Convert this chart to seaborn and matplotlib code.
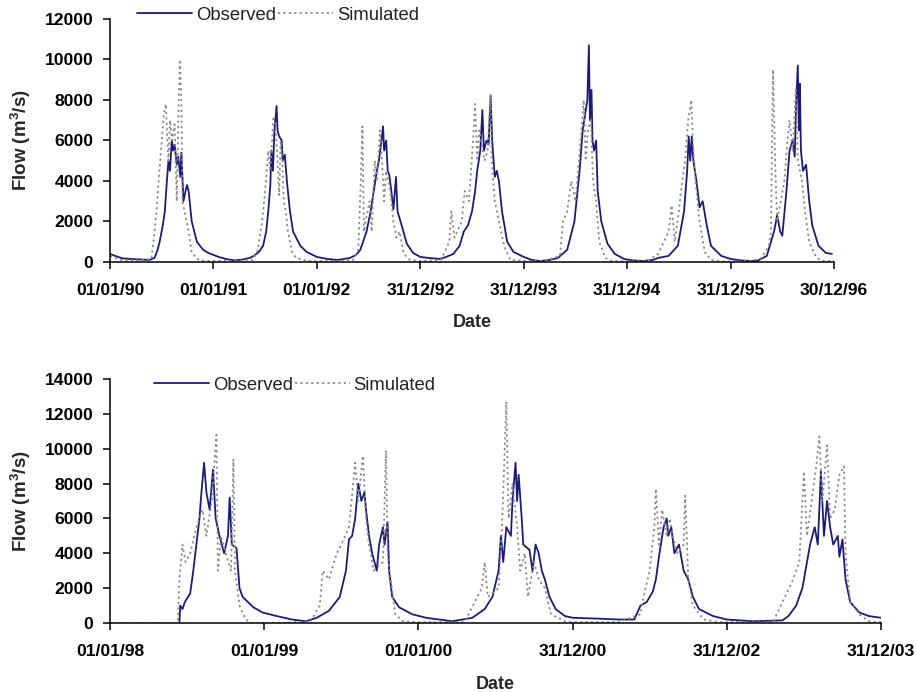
import matplotlib
matplotlib.use("Agg")
import matplotlib.pyplot as plt
import seaborn as sns
import pandas as pd

# ---------------- data (time in years from first tick, flow in m3/s) ----------------
top_ticklabels = ["01/01/90", "01/01/91", "01/01/92", "31/12/92", "31/12/93", "31/12/94", "31/12/95", "30/12/96"]
bot_ticklabels = ["01/01/98", "01/01/99", "01/01/00", "31/12/00", "31/12/02", "31/12/03"]

top_obs_t = [0.00, 0.05, 0.12, 0.2, 0.3, 0.38, 0.43, 0.46, 0.48, 0.51, 0.53, 0.55, 0.565, 0.58, 0.597, 0.61, 0.625, 0.645, 0.66, 0.68, 0.69, 0.71, 0.73, 0.745, 0.76, 0.79, 0.84, 0.9, 0.95, 1.0,
             1.05, 1.12, 1.2, 1.28, 1.35, 1.39, 1.44, 1.48, 1.51, 1.53, 1.55, 1.56, 1.575, 1.59, 1.61, 1.62, 1.635, 1.66, 1.67, 1.69, 1.71, 1.74, 1.77, 1.84, 1.9, 2.0,
             2.1, 2.2, 2.32, 2.38, 2.42, 2.48, 2.52, 2.55, 2.58, 2.6, 2.62, 2.64, 2.65, 2.67, 2.685, 2.7, 2.72, 2.74, 2.765, 2.78, 2.82, 2.87, 2.93, 3.0,
             3.08, 3.19, 3.25, 3.32, 3.38, 3.42, 3.46, 3.5, 3.53, 3.55, 3.58, 3.6, 3.615, 3.64, 3.66, 3.68, 3.695, 3.72, 3.74, 3.76, 3.79, 3.84, 3.9, 4.0,
             4.08, 4.16, 4.25, 4.33, 4.42, 4.49, 4.52, 4.54, 4.57, 4.6, 4.615, 4.63, 4.64, 4.655, 4.665, 4.68, 4.7, 4.715, 4.75, 4.81, 4.88, 4.97,
             5.05, 5.15, 5.25, 5.3, 5.4, 5.49, 5.55, 5.58, 5.595, 5.61, 5.625, 5.64, 5.67, 5.7, 5.73, 5.77, 5.81, 5.91, 6.0,
             6.1, 6.2, 6.26, 6.35, 6.42, 6.45, 6.48, 6.5, 6.54, 6.57, 6.6, 6.62, 6.635, 6.65, 6.66, 6.67, 6.68, 6.7, 6.73, 6.76, 6.79, 6.85, 6.92, 6.98]
top_obs_v = [400, 300, 180, 150, 120, 100, 200, 600, 1000, 1800, 2500, 4000, 5000, 4500, 6000, 5500, 5800, 4800, 5200, 4200, 5400, 3000, 3500, 3800, 3500, 2000, 1000, 600, 450, 350,
             250, 150, 80, 120, 200, 300, 500, 800, 1500, 2500, 3800, 5500, 4500, 6500, 7700, 6500, 6200, 6000, 5000, 5300, 4000, 2500, 1500, 800, 500, 250,
             150, 100, 200, 350, 600, 1500, 2500, 3500, 4500, 5000, 5800, 6700, 5500, 6000, 4500, 4300, 3500, 2600, 4200, 2500, 1800, 900, 450, 250,
             200, 150, 250, 400, 800, 1500, 1800, 2500, 3500, 4500, 5500, 7500, 5500, 6000, 5800, 8200, 6000, 4200, 4500, 4000, 2500, 1000, 500, 250,
             100, 50, 100, 200, 600, 2000, 3500, 4500, 6500, 7500, 8000, 10700, 7000, 8500, 6000, 5500, 6000, 3500, 2000, 900, 400, 150,
             80, 50, 100, 200, 300, 800, 2500, 4500, 6200, 5000, 6200, 5000, 4000, 2700, 3000, 1800, 800, 300, 150,
             80, 50, 60, 300, 1500, 2300, 1500, 1300, 3500, 5500, 6000, 5200, 8000, 9700, 6500, 8800, 5500, 4500, 4800, 3000, 1800, 800, 450, 400]

top_sim_t = [0.0, 0.1, 0.3, 0.4, 0.42, 0.45, 0.47, 0.5, 0.52, 0.54, 0.55, 0.565, 0.58, 0.6, 0.625, 0.645, 0.66, 0.675, 0.69, 0.7, 0.72, 0.76, 0.79, 0.84, 0.9, 1.0,
             1.2, 1.38, 1.43, 1.47, 1.5, 1.53, 1.55, 1.58, 1.6, 1.62, 1.635, 1.65, 1.665, 1.68, 1.7, 1.72, 1.76, 1.8, 1.9, 2.0,
             2.2, 2.35, 2.4, 2.425, 2.44, 2.455, 2.47, 2.51, 2.53, 2.56, 2.58, 2.61, 2.63, 2.65, 2.67, 2.71, 2.74, 2.77, 2.8, 2.84, 2.9, 3.0,
             3.2, 3.28, 3.3, 3.33, 3.4, 3.43, 3.47, 3.51, 3.53, 3.55, 3.57, 3.59, 3.62, 3.65, 3.68, 3.69, 3.72, 3.76, 3.81, 3.87, 4.0,
             4.2, 4.35, 4.38, 4.42, 4.46, 4.5, 4.55, 4.58, 4.6, 4.62, 4.65, 4.67, 4.7, 4.73, 4.79, 4.85, 5.0,
             5.2, 5.3, 5.4, 5.43, 5.46, 5.5, 5.52, 5.56, 5.59, 5.62, 5.635, 5.66, 5.7, 5.75, 5.81, 5.9, 6.0,
             6.2, 6.3, 6.37, 6.39, 6.41, 6.43, 6.45, 6.52, 6.55, 6.57, 6.6, 6.63, 6.65, 6.69, 6.72, 6.76, 6.83, 6.9, 7.0]
top_sim_v = [300, 100, 80, 150, 1000, 2500, 4000, 6000, 7300, 7800, 6500, 5000, 7000, 6000, 6800, 3000, 7000, 10000, 8000, 3000, 2500, 1500, 500, 150, 60, 50,
             50, 100, 600, 2000, 3500, 5500, 4500, 7200, 6800, 5000, 3300, 6000, 5000, 3000, 2500, 1500, 500, 200, 60, 40,
             50, 100, 600, 4000, 6700, 1500, 2000, 3000, 1500, 5000, 4000, 6500, 5000, 3000, 4500, 3500, 2000, 1200, 1500, 400, 100, 50,
             100, 1000, 2500, 1200, 2000, 3500, 3000, 6000, 7800, 5000, 6500, 6000, 5000, 5500, 8300, 5000, 3000, 2000, 800, 100, 50,
             50, 300, 2000, 2500, 4000, 3000, 6000, 8000, 5000, 6500, 7000, 4000, 3000, 1000, 200, 50, 30,
             50, 400, 1500, 2800, 1000, 2500, 3500, 5000, 7000, 8000, 6000, 4000, 2000, 500, 100, 30, 30,
             50, 200, 800, 1500, 9500, 5000, 2000, 4000, 6000, 7000, 5500, 8500, 5000, 4000, 2500, 1000, 200, 50, 50]

bot_obs_t = [0.45, 0.455, 0.47, 0.485, 0.52, 0.54, 0.56, 0.58, 0.593, 0.61, 0.625, 0.646, 0.668, 0.685, 0.71, 0.74, 0.765, 0.776, 0.79, 0.82, 0.84, 0.86, 0.93, 0.99,
             1.08, 1.18, 1.27, 1.34, 1.42, 1.49, 1.53, 1.55, 1.57, 1.59, 1.61, 1.63, 1.65, 1.66, 1.68, 1.7, 1.73, 1.745, 1.77, 1.78, 1.8, 1.81, 1.83, 1.875, 1.96,
             2.05, 2.22, 2.35, 2.43, 2.48, 2.52, 2.535, 2.55, 2.57, 2.6, 2.61, 2.63, 2.64, 2.65, 2.67, 2.68, 2.72, 2.74, 2.76, 2.78, 2.8, 2.82, 2.85, 2.89, 2.95,
             3.0, 3.17, 3.3, 3.4, 3.415, 3.44, 3.48, 3.52, 3.54, 3.56, 3.59, 3.61, 3.62, 3.64, 3.66, 3.69, 3.72, 3.75, 3.78, 3.82, 3.91,
             4.0, 4.17, 4.36, 4.4, 4.45, 4.49, 4.52, 4.54, 4.57, 4.59, 4.6, 4.61, 4.63, 4.65, 4.67, 4.69, 4.72, 4.73, 4.75, 4.77, 4.8, 4.86, 4.92, 5.0]
bot_obs_v = [0, 1000, 800, 1200, 1700, 3000, 4500, 6000, 7500, 9200, 7500, 6500, 8800, 6000, 5000, 4000, 5000, 7200, 4500, 4300, 2000, 1500, 900, 600,
             400, 200, 100, 300, 700, 1500, 3000, 4800, 5000, 6000, 8000, 7000, 7500, 6500, 5000, 4000, 3000, 4500, 5500, 4500, 5800, 3000, 1500, 900, 500,
             300, 100, 300, 800, 1500, 3000, 5000, 3500, 5500, 5000, 7000, 9200, 7000, 8500, 6000, 4500, 4200, 3000, 4500, 4000, 3000, 2500, 1500, 800, 400,
             300, 250, 200, 200, 500, 1000, 1200, 1800, 2500, 3800, 5500, 6000, 5000, 5500, 4000, 4500, 3000, 2500, 1500, 800, 400,
             200, 100, 150, 400, 1000, 2000, 3500, 4500, 5500, 4500, 6500, 8700, 5000, 7000, 5500, 4500, 5000, 3800, 4800, 2500, 1200, 600, 400, 300]

bot_sim_t = [0.0, 0.2, 0.44, 0.45, 0.47, 0.49, 0.52, 0.56, 0.6, 0.625, 0.66, 0.69, 0.7, 0.72, 0.75, 0.785, 0.8, 0.81, 0.84, 0.88, 0.92,
             1.1, 1.3, 1.36, 1.38, 1.42, 1.47, 1.5, 1.55, 1.59, 1.61, 1.64, 1.66, 1.68, 1.71, 1.77, 1.79, 1.8, 1.82, 1.85, 1.9,
             2.0, 2.3, 2.41, 2.43, 2.45, 2.52, 2.54, 2.56, 2.57, 2.585, 2.61, 2.64, 2.66, 2.69, 2.71, 2.75, 2.78, 2.82, 2.86, 2.95,
             3.0, 3.3, 3.44, 3.46, 3.5, 3.53, 3.54, 3.56, 3.58, 3.61, 3.63, 3.65, 3.68, 3.72, 3.73, 3.75, 3.78, 3.85, 3.95,
             4.3, 4.43, 4.47, 4.5, 4.52, 4.58, 4.6, 4.62, 4.65, 4.67, 4.7, 4.73, 4.76, 4.77, 4.8, 4.86, 4.92, 5.0]
bot_sim_v = [0, 0, 0, 2500, 4500, 3500, 4000, 5500, 6500, 5000, 7000, 10800, 3000, 5000, 4000, 3000, 9400, 3000, 1000, 200, 0,
             0, 100, 1000, 3000, 2500, 4000, 4500, 5500, 9200, 7000, 9600, 6000, 4500, 3000, 3500, 9900, 4000, 2500, 500, 100,
             50, 50, 2000, 3500, 1500, 2000, 5000, 10000, 12700, 6000, 8000, 5500, 3000, 4000, 1500, 3500, 2500, 2000, 500, 100,
             50, 50, 500, 1500, 3000, 5500, 7700, 4500, 6500, 5000, 6000, 5000, 4000, 4500, 7300, 2500, 1000, 200, 50,
             50, 2500, 3500, 8700, 5000, 9000, 10700, 7000, 10200, 6000, 6500, 8500, 9000, 4000, 1200, 500, 100, 50]

# ---------------- styling ----------------
sns.set_theme(style="white")
plt.rcParams["font.family"] = ["Liberation Sans", "DejaVu Sans"]
plt.rcParams["mathtext.default"] = "regular"

OBS_COLOR = "#1c1c78"
SIM_COLOR = "#8a8a8a"

fig = plt.figure(figsize=(9.16, 6.92), dpi=100)
ax1 = fig.add_axes([0.1201, 0.6214, 0.7904, 0.3512])
ax2 = fig.add_axes([0.1201, 0.0997, 0.8417, 0.3526])


def draw(ax, ot, ov, st, sv, ticklabels, ymax, ystep, legend_x, legend_y):
    sns.lineplot(x=ot, y=ov, ax=ax, color=OBS_COLOR, linewidth=1.3, label="Observed", sort=False)
    sns.lineplot(x=st, y=sv, ax=ax, color=SIM_COLOR, linewidth=1.3, linestyle=(0, (1.2, 1.8)),
                 label="Simulated", sort=False)
    ax.set_xlim(0, len(ticklabels) - 1)
    ax.set_ylim(0, ymax)
    ax.set_xticks(range(len(ticklabels)))
    ax.set_xticklabels(ticklabels)
    ax.set_yticks(range(0, ymax + 1, ystep))
    ax.set_yticklabels([str(v) for v in range(0, ymax + 1, ystep)])
    for s in ["top", "right"]:
        ax.spines[s].set_visible(False)
    for s in ["left", "bottom"]:
        ax.spines[s].set_color("black")
        ax.spines[s].set_linewidth(1.1)
    ax.tick_params(axis="both", which="major", direction="out", length=5, width=1.1,
                   color="black", labelsize=12.6, labelcolor="black", bottom=True, left=True)
    ax.tick_params(axis="x", pad=10)
    ax.tick_params(axis="y", pad=7)
    for lab in ax.get_xticklabels() + ax.get_yticklabels():
        lab.set_fontweight("bold")
    ax.set_xlabel("Date", fontsize=13, fontweight="bold")
    ax.set_ylabel("Flow (m$^{3}$/s)", fontsize=13.5, fontweight="bold")
    ax.grid(False)
    leg = ax.legend(loc="center left", bbox_to_anchor=(legend_x, legend_y), ncol=2, frameon=False,
                    fontsize=13.3, handlelength=3.0, handletextpad=0.2, columnspacing=0.1,
                    borderaxespad=0)
    for t in leg.get_texts():
        t.set_color("#222222")


draw(ax1, top_obs_t, top_obs_v, top_sim_t, top_sim_v, top_ticklabels, 12000, 2000, 0.027, 1.015)
draw(ax2, bot_obs_t, bot_obs_v, bot_sim_t, bot_sim_v, bot_ticklabels, 14000, 2000, 0.047, 0.975)

ax1.xaxis.set_label_coords(0.5, -0.215)
ax2.xaxis.set_label_coords(0.5, -0.218)
ax1.yaxis.set_label_coords(-0.106, 0.5)
ax2.yaxis.set_label_coords(-0.1, 0.5)

fig.savefig("out.png", dpi=100, facecolor="white")
